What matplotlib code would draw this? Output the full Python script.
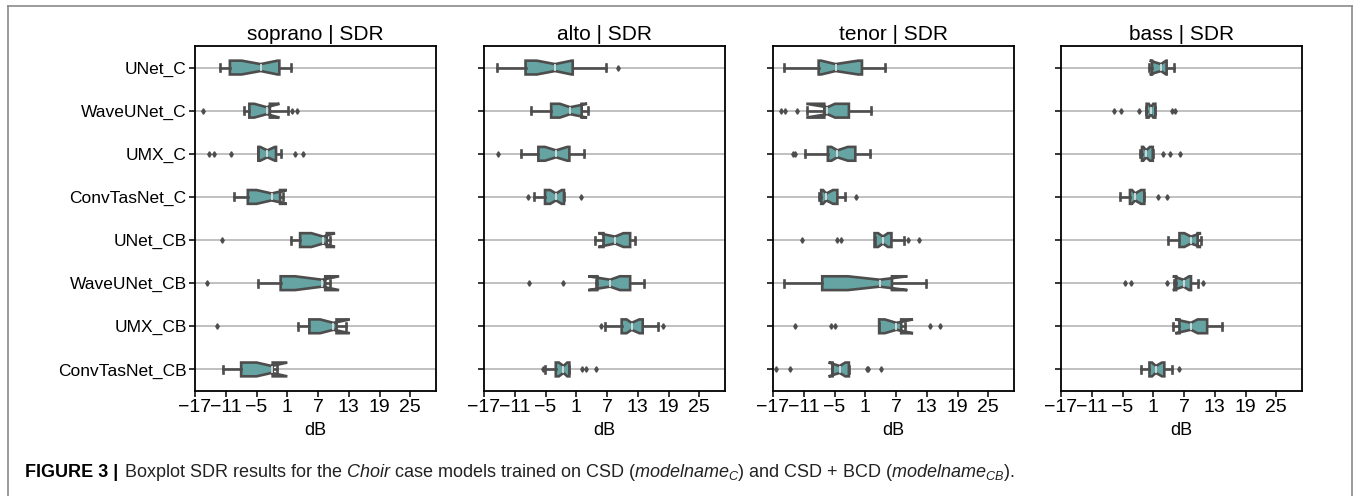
import matplotlib
matplotlib.use("Agg")
import matplotlib.pyplot as plt
from matplotlib.lines import Line2D

plt.rcParams['font.family'] = ['Liberation Sans', 'DejaVu Sans']
plt.rcParams['mathtext.fontset'] = 'custom'
plt.rcParams['mathtext.rm'] = 'Liberation Sans'
plt.rcParams['mathtext.it'] = 'Liberation Sans:italic'
plt.rcParams['mathtext.bf'] = 'Liberation Sans:bold'

# ---------------- data ----------------
models = ["UNet_C", "WaveUNet_C", "UMX_C", "ConvTasNet_C",
          "UNet_CB", "WaveUNet_CB", "UMX_CB", "ConvTasNet_CB"]
voices = ["soprano", "alto", "tenor", "bass"]
xticks = [-17, -11, -5, 1, 7, 13, 19, 25]

# soprano
sop_wlo = [-12.1, -7.4, -4.65, -9.3, 1.7, -4.8, 3.15, -11.5]
sop_q1 = [-10.2, -6.4, -4.65, -6.7, 3.5, -0.3, 5.3, -8.0]
sop_med = [-4.2, -3.0, -2.9, -2.05, 8.0, 7.8, 10.0, -2.05]
sop_q3 = [-0.55, -2.4, -1.2, -0.4, 8.7, 8.4, 10.6, -1.85]
sop_whi = [1.66, 1.1, -0.3, 0.23, 9.4, 9.4, 12.4, -0.95]
sop_cilo = [-7.9, -5.45, -4.3, -5.0, 5.7, 2.5, 7.4, -5.0]
sop_cihi = [-0.9, -0.55, -1.4, 0.88, 10.3, 11.1, 13.2, 1.0]
sop_fliers = [[], [-15.5, 1.85, 2.8], [-14.3, -13.2, -10.0, 2.57, 4.1], [],
              [-11.7], [-14.7], [-12.8], []]

# alto
alt_wlo = [-14.5, -7.9, -9.85, -7.2, 4.65, 4.9, 6.6, -5.1]
alt_q1 = [-8.9, -3.9, -6.4, -5.1, 6.3, 5.1, 9.85, -3.0]
alt_med = [-3.15, -0.2, -2.95, -2.95, 8.55, 7.6, 11.8, -1.5]
alt_q3 = [0.3, 2.05, -0.35, -1.4, 11.5, 11.5, 13.95, -0.35]
alt_whi = [6.8, 3.3, 2.55, -1.4, 12.45, 14.2, 17.0, -0.35]
alt_cilo = [-6.7, -2.2, -5.1, -4.1, 5.3, 3.35, 10.8, -2.4]
alt_cihi = [0.1, 3.1, -0.75, -1.85, 10.2, 9.5, 13.3, -0.75]
alt_fliers = [[9.1], [], [-14.2], [-8.5, 1.85], [], [-8.2, -1.5],
              [5.75, 18.0], [-5.55, 2.05, 2.9, 4.8]]

# tenor
ten_wlo = [-14.9, -10.3, -10.8, -8.1, 2.8, -14.9, 3.7, -5.4]
ten_q1 = [-8.1, -7.0, -6.3, -7.6, 2.8, -7.4, 3.7, -5.4]
ten_med = [-4.8, -6.4, -4.45, -6.6, 4.45, 3.8, 7.05, -4.0]
ten_q3 = [0.35, -2.2, -0.95, -4.45, 6.1, 6.2, 8.0, -2.2]
ten_whi = [4.9, 2.05, 2.0, -3.0, 8.5, 12.8, 8.7, -2.2]
ten_cilo = [-7.6, -10.5, -5.6, -7.25, 3.5, -2.4, 4.8, -6.15]
ten_cihi = [-0.4, -4.9, -2.4, -5.3, 5.4, 9.2, 10.3, -2.9]
ten_fliers = [[], [-15.4, -14.6, -12.25], [-13.1, -12.8], [-0.9],
              [-11.35, -4.5, -3.65, 9.3, 11.4], [],
              [-12.65, -5.75, -5.0, 13.7, 15.5],
              [-16.35, -13.75, 1.3, 1.55, 4.0]]

# bass
bas_wlo = [0.1, -0.4, -1.6, -5.45, 3.8, 5.0, 4.9, -1.4]
bas_q1 = [0.75, -0.3, -1.2, -3.55, 6.1, 5.45, 6.1, 0.25]
bas_med = [2.5, 0.55, -0.4, -2.55, 8.35, 6.9, 8.35, 1.5]
bas_q3 = [3.6, 1.4, 0.9, -0.75, 9.65, 8.35, 11.5, 3.15]
bas_whi = [5.05, 1.4, 0.9, -0.75, 10.3, 9.65, 14.35, 4.65]
bas_cilo = [0.3, 0.1, -0.95, -3.15, 7.05, 4.8, 5.3, 0.75]
bas_cihi = [3.5, 1.0, 0.35, -1.4, 10.3, 8.0, 9.65, 2.7]
bas_fliers = [[], [-6.6, -5.3, -1.7, 4.65, 5.3], [2.85, 4.3, 6.3], [1.85, 3.6],
              [], [-4.5, -3.35, 3.7, 10.75], [], [5.95]]

panel_data = [
    (sop_wlo, sop_q1, sop_med, sop_q3, sop_whi, sop_cilo, sop_cihi, sop_fliers),
    (alt_wlo, alt_q1, alt_med, alt_q3, alt_whi, alt_cilo, alt_cihi, alt_fliers),
    (ten_wlo, ten_q1, ten_med, ten_q3, ten_whi, ten_cilo, ten_cihi, ten_fliers),
    (bas_wlo, bas_q1, bas_med, bas_q3, bas_whi, bas_cilo, bas_cihi, bas_fliers),
]

# ---------------- figure ----------------
W, H = 1354, 496
fig = plt.figure(figsize=(W / 100, H / 100), dpi=100)
fig.patch.set_facecolor("white")

lefts = [195, 484, 773, 1061]
ax_w = 241
ax_top, ax_bot = 46, 391

line_col = "#4d4d4d"
fill_col = "#66a3a3"
lw = 1.9

for i, (voice, pdata) in enumerate(zip(voices, panel_data)):
    wlo, q1, med, q3, whi, cilo, cihi, fl = pdata
    ax = fig.add_axes([lefts[i] / W, 1 - ax_bot / H, ax_w / W, (ax_bot - ax_top) / H])
    stats = []
    for k in range(len(models)):
        stats.append(dict(med=med[k], q1=q1[k], q3=q3[k], whislo=wlo[k],
                          whishi=whi[k], cilo=cilo[k], cihi=cihi[k],
                          fliers=fl[k], label=models[k]))
    ax.bxp(stats, positions=list(range(len(models))), orientation='horizontal',
           shownotches=True, widths=0.32, patch_artist=True, manage_ticks=False,
           boxprops=dict(facecolor=fill_col, edgecolor=line_col, linewidth=lw),
           whiskerprops=dict(color=line_col, linewidth=lw),
           capprops=dict(color=line_col, linewidth=lw),
           medianprops=dict(color="#d6dede", linewidth=1.3),
           flierprops=dict(marker='d', markersize=2.8, markerfacecolor=line_col,
                           markeredgecolor=line_col, linestyle='none'))
    ax.set_ylim(len(models) - 0.5, -0.5)
    ax.set_xlim(-17, 30)
    ax.set_yticks(range(len(models)))
    if i == 0:
        ax.set_yticklabels(models, fontsize=12.5)
    else:
        ax.set_yticklabels([])
    ax.set_xticks(xticks)
    ax.set_xticklabels([str(v).replace('-', '\u2212') for v in xticks], fontsize=14)
    ax.yaxis.grid(True, color="#b5b5b5", linewidth=1.2)
    ax.set_axisbelow(True)
    ax.tick_params(axis='both', direction='out', length=4, width=1.1, color='black',
                   pad=2)
    for sp in ax.spines.values():
        sp.set_linewidth(1.3)
        sp.set_color('black')
    ax.set_title(f"{voice} | SDR", fontsize=15, pad=4)
    ax.set_xlabel("dB", fontsize=13, labelpad=4)

# frame around figure (open at bottom)
fc = "#8a8a8a"
fig.add_artist(Line2D([8 / W, 8 / W], [0, 1 - 6 / H], transform=fig.transFigure, color=fc, lw=1.2))
fig.add_artist(Line2D([1352 / W, 1352 / W], [0, 1 - 6 / H], transform=fig.transFigure, color=fc, lw=1.2))
fig.add_artist(Line2D([8 / W, 1352 / W], [1 - 6 / H, 1 - 6 / H], transform=fig.transFigure, color=fc, lw=1.2))

# caption
cap_y = 1 - 477 / H
t1 = fig.text(25 / W, cap_y, "FIGURE 3 |", fontsize=13, fontweight='bold',
              va='baseline', ha='left')
fig.canvas.draw()
bb = t1.get_window_extent(renderer=fig.canvas.get_renderer())
rest = (r" Boxplot SDR results for the $\mathit{Choir}$ case models trained on CSD "
        r"($\mathit{modelname}_{\mathit{C}}$) and CSD + BCD "
        r"($\mathit{modelname}_{\mathit{CB}}$).")
fig.text((bb.x1 + 1) / W, cap_y, rest, fontsize=13, va='baseline', ha='left',
         color='#222222')

fig.savefig("out.png", dpi=100)
